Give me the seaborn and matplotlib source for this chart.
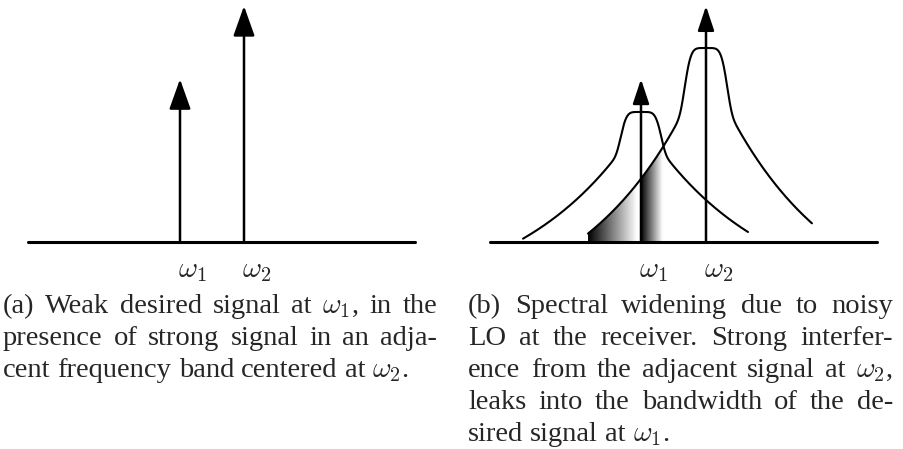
import numpy as np
import pandas as pd
import matplotlib
matplotlib.use("Agg")
import matplotlib.pyplot as plt
from matplotlib.patches import Polygon
import seaborn as sns

# ---- spectral components (frequency in units of channel spacing) ----
omega_pos = [1.0, 2.0]
omega_labels = [r"$\omega_1$", r"$\omega_2$"]
arrow_heights = [0.69, 1.0]

# widened line shapes: flat-topped core merged into an exponential noise skirt
core_heights = [0.551, 0.822]
core_widths = [0.31, 0.325]
skirt_scale = [0.786, 1.097]
skirt_floor = [0.275, 0.339]
skirt_decay = [1.815, 1.69]
span_left = [-1.815, -1.815]
span_right = [1.646, 1.63]

# leakage of the strong skirt into the desired band
leak_start = 0.185
leak_end = 1.354

caption_a = [
    r"(a) Weak desired signal at $\omega_1$, in the",
    r"presence of strong signal in an adja-",
    r"cent frequency band centered at $\omega_2$.",
]
caption_b = [
    r"(b) Spectral widening due to noisy",
    r"LO at the receiver.  Strong interfer-",
    r"ence from the adjacent signal at $\omega_2$,",
    r"leaks into the bandwidth of the de-",
    r"sired signal at $\omega_1$.",
]

W, H = 904, 449
sns.set_theme(style="white")
plt.rcParams["font.family"] = ["Liberation Serif", "DejaVu Serif"]
plt.rcParams["mathtext.fontset"] = "cm"

fig = plt.figure(figsize=(W / 100, H / 100), dpi=100)
fig.patch.set_facecolor("white")


def line_shape(x, k):
    d = np.abs(x - omega_pos[k])
    skirt = np.clip(skirt_scale[k] * np.exp(-d / skirt_decay[k]) - skirt_floor[k], 0, None)
    core = np.exp(-(d / core_widths[k]) ** 5)
    return core * core_heights[k] + (1 - core) * skirt


def setup(ax, xlim):
    ax.set_xlim(*xlim)
    ax.set_ylim(0, 242 / 236)
    ax.set_xticks([])
    ax.set_yticks([])
    ax.set_xlabel("")
    ax.set_ylabel("")
    sns.despine(ax=ax, left=True, bottom=True)
    ax.set_facecolor("none")


def draw_axis_and_arrows(ax, head):
    ax.axhline(0, color="black", lw=2.2, clip_on=False, zorder=5)
    hl, hw = head
    for pos, h in zip(omega_pos, arrow_heights):
        ax.annotate("", xy=(pos, h), xytext=(pos, 0),
                    arrowprops=dict(arrowstyle=f"-|>,head_length={hl},head_width={hw}",
                                    mutation_scale=10, lw=1.8, color="black",
                                    shrinkA=0, shrinkB=0),
                    zorder=6, annotation_clip=False)
    for pos, lab in zip(omega_pos, omega_labels):
        ax.annotate(lab, xy=(pos, 0), xytext=(-1.5, -11.5), textcoords="offset points",
                    ha="left", va="top", fontsize=21, math_fontfamily="cm",
                    annotation_clip=False)


# ---- panel (a) ----
ax_a = fig.add_axes([28 / W, (H - 242) / H, 387 / W, 242 / H])
setup(ax_a, (1 - 152 / 64, 1 + 235 / 64))
draw_axis_and_arrows(ax_a, (1.85, 0.66))

# ---- panel (b) ----
ax_b = fig.add_axes([490 / W, (H - 242) / H, 387 / W, 242 / H])

# shaded leakage region with gradient fill
xs_leak = np.linspace(leak_start, leak_end, 300)
top_leak = line_shape(xs_leak, 1)
grad_x = np.linspace(leak_start, leak_end, 600)
grad = np.where(grad_x < omega_pos[0],
                (grad_x - leak_start) / (omega_pos[0] - 0.06 - leak_start),
                (grad_x - omega_pos[0]) / (leak_end - 0.02 - omega_pos[0]))
grad = np.clip(grad, 0, 1)
im = ax_b.imshow(grad[None, :], extent=[leak_start, leak_end, 0, 1.0],
                 aspect="auto", cmap="gray", vmin=0, vmax=1, origin="lower",
                 interpolation="bilinear", zorder=1)
verts = np.vstack([[leak_start, 0], np.column_stack([xs_leak, top_leak]), [leak_end, 0]])
clip = Polygon(verts, closed=True, facecolor="none", edgecolor="none",
               transform=ax_b.transData)
ax_b.add_patch(clip)
im.set_clip_path(clip)

for k in range(2):
    xs = np.linspace(omega_pos[k] + span_left[k], omega_pos[k] + span_right[k], 800)
    df = pd.DataFrame({"freq": xs, "psd": line_shape(xs, k)})
    sns.lineplot(data=df, x="freq", y="psd", ax=ax_b, color="black", lw=1.5,
                 sort=False, zorder=4)
setup(ax_b, (1 - 151 / 65, 1 + 236 / 65))
draw_axis_and_arrows(ax_b, (1.5, 0.5))

# ---- captions, set as justified paragraphs ----
renderer = fig.canvas.get_renderer()
FS = 20.5


def paragraph(lines, x0, x1, baselines):
    for i, (line, yb) in enumerate(zip(lines, baselines)):
        words = line.split()
        texts = [fig.text(0, 0, w, fontsize=FS, va="baseline", ha="left",
                          math_fontfamily="cm") for w in words]
        widths = [t.get_window_extent(renderer).width for t in texts]
        last = i == len(lines) - 1
        if last or len(words) < 2:
            gap = 0.25 * FS * 100 / 72
        else:
            gap = (x1 - x0 - sum(widths)) / (len(words) - 1)
        x = x0
        for t, w in zip(texts, widths):
            t.set_position((x / W, 1 - yb / H))
            x += w + gap


paragraph(caption_a, 3, 437, [313, 345, 377])
paragraph(caption_b, 468, 893, [313, 345, 377, 409, 441])

fig.savefig("out.png", dpi=100, facecolor="white")
